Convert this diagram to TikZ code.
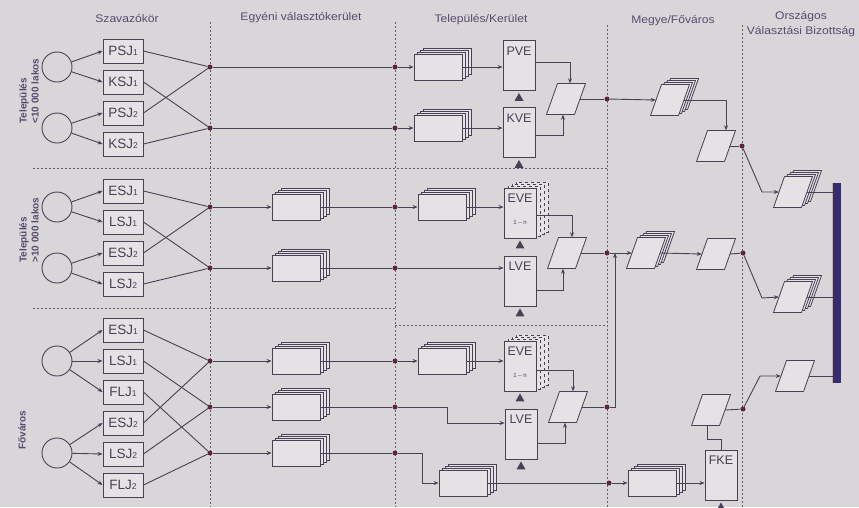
\documentclass[tikz,border=0pt]{standalone}
\usepackage{fontspec}
\setmainfont{Liberation Sans}
\newfontfamily\headfont[FakeStretch=1.1]{Liberation Sans}
\usetikzlibrary{arrows.meta,calc}
\definecolor{bgc}{RGB}{216,214,216}
\definecolor{fillc}{RGB}{228,226,229}
\definecolor{linec}{RGB}{72,64,84}
\definecolor{dotc}{RGB}{92,36,62}
\definecolor{textc}{RGB}{90,74,112}
\definecolor{barc}{RGB}{52,44,118}
\definecolor{baredge}{RGB}{205,185,105}
\newcommand\ix[1]{{\fontsize{8.5}{8}\selectfont #1}}
\newcommand\pagestack[3]{%
  \foreach \k in {3,2,1}{\node[page] at ({#2+3*\k},{#3-2*\k}) {};}%
  \node[page] (#1) at (#2,#3) {};}
\newcommand\paraat[2]{%
  \filldraw[parashape] ({#1-19.5},{#2+15.5}) -- ({#1-8.5},{#2-15.5}) -- ({#1+19.5},{#2-15.5}) -- ({#1+8.5},{#2+15.5}) -- cycle;}
\newcommand\mkpara[3]{\paraat{#2}{#3}\node[parabox] (#1) at (#2,#3) {};}
\newcommand\parastack[3]{%
  \foreach \k in {3,2,1}{\paraat{#2+3*\k}{#3-2*\k}}%
  \mkpara{#1}{#2}{#3}}
\newcommand\votetri[1]{\fill[linec] ($(#1.south)+(0,2)$) -- ++(-4.5,8) -- ++(9,0) -- cycle;}
\newcommand\dashback[2]{%
  \foreach \k in {3,2,1}{\node[vebox,dashed,line width=0.6pt] at ({#1+4*\k},{#2-2*\k}) {};}}
\tikzset{
  conn/.style={draw=linec,line width=0.9pt},
  arr/.style={conn,-{Stealth[length=5pt,width=4pt]}},
  divider/.style={draw=linec!85,line width=0.6pt,dash pattern=on 2pt off 2pt},
  heading/.style={text=textc,font=\headfont\fontsize{11}{15}\selectfont,align=center},
  sidelab/.style={text=textc,font=\bfseries\fontsize{10}{12}\selectfont,align=left},
  voter/.style={circle,draw=linec,line width=0.9pt,minimum size=30pt,inner sep=0pt},
  sbox/.style={draw=linec,line width=0.9pt,fill=fillc,minimum width=40pt,minimum height=24pt,inner sep=0pt,text=linec,font=\fontsize{13.5}{14}\selectfont},
  junc/.style={circle,fill=dotc,inner sep=0pt,minimum size=5pt},
  page/.style={draw=linec,line width=0.8pt,fill=fillc,minimum width=48pt,minimum height=26pt,inner sep=0pt},
  vebox/.style={draw=linec,line width=0.9pt,fill=fillc,minimum width=32pt,minimum height=50pt,inner sep=0pt},
  velab/.style={text=linec,font=\fontsize{12.5}{13}\selectfont,anchor=north,yshift=-3pt},
  smalllab/.style={text=linec,font=\fontsize{6}{6}\selectfont,yshift=-9pt},
  parashape/.style={draw=linec,line width=0.8pt,fill=fillc,line join=round},
  parabox/.style={minimum width=28pt,minimum height=31pt,inner sep=0pt},
}
\begin{document}
\begin{tikzpicture}[x=1pt,y=-1pt]
\fill[bgc] (0,0) rectangle (859,507);
\useasboundingbox (0,0) rectangle (859,507);
% headings
\node[heading] (h1) at (127,18) {Szavazókör};
\node[heading] (h2) at (301,18) {Egyéni választókerület};
\node[heading] (h3) at (481,20) {Település/Kerület};
\node[heading] (h4) at (673,21) {Megye/Főváros};
\node[heading] (h5) at (801,24) {Országos\\Választási Bizottság};
% dividers
\draw[divider] (210,22) -- (210,507);
\draw[divider] (395,22) -- (395,507);
\draw[divider] (607,25) -- (607,507);
\draw[divider] (742,25) -- (742,507);
\draw[divider] (33,168) -- (607,168);
\draw[divider] (33,308) -- (395,308);
\draw[divider] (395,325) -- (607,325);
% side labels
\node[sidelab,rotate=90,anchor=west] (l1) at (29,127) {Település\\<10 000 lakos};
\node[sidelab,rotate=90,anchor=west] (l2) at (29,266) {Település\\>10 000 lakos};
\node[sidelab,rotate=90] (l3) at (22,430) {Főváros};
% bar
\node[fill=barc,minimum width=8pt,minimum height=200pt,inner sep=0pt] (bar) at (837,283) {};
\draw[baredge,line width=1.2pt] (bar.north west) -- (bar.south west);

% ===== section 1
\node[voter] (c1) at (57,67) {};
\node[voter] (c2) at (57,128) {};
\node[sbox] (a1) at (123,51) {PSJ\ix1};
\node[sbox] (a2) at (123,82) {KSJ\ix1};
\node[sbox] (a3) at (123,113) {PSJ\ix2};
\node[sbox] (a4) at (123,144) {KSJ\ix2};
\node[junc] (d1) at (210,67) {};
\node[junc] (d2) at (210,128) {};
\node[junc] (e1) at (395,67) {};
\node[junc] (e2) at (395,128) {};
\pagestack{s1}{438}{67}
\pagestack{s2}{438}{128}
\node[vebox,label={[velab]north:PVE}] (pve) at (519,65.5) {};
\node[vebox,label={[velab]north:KVE}] (kve) at (519,132.5) {};
\votetri{pve}\votetri{kve}
\mkpara{p1}{566}{99}
\node[junc] (f1) at (607,99) {};
\parastack{sp1}{670}{100}
\mkpara{p2}{716}{146}
\node[junc] (g1) at (742,146) {};
\coordinate (k1) at (762,192);
\parastack{sa1}{793}{192}
\coordinate (t1) at (726,100);

\foreach \c/\b in {c1/a1,c1/a2,c2/a3,c2/a4} \draw[arr] (\c) -- (\b.west);
\foreach \b/\d in {a1/d1,a2/d2,a3/d1,a4/d2} \draw[conn] (\b.east) -- (\d);
\draw[conn] (d1) -- (e1);
\draw[conn] (d2) -- (e2);
\draw[arr] (e1) -- (s1.west);
\draw[arr] (e2) -- (s2.west);
\draw[arr] (s1.east) -- (s1.east -| pve.west);
\draw[arr] (s2.east) -- (s2.east -| kve.west);
\draw[arr] ($(pve.east)+(0,-3)$) -| ($(p1.north)+(4,0)$);
\draw[arr] ($(kve.east)+(0,2.5)$) -| ($(p1.south)+(-3,0)$);
\draw[conn] (p1.east) -- (f1);
\draw[arr] (f1) -- (sp1.west);
\draw[arr] (sp1.east) -- (t1) -- (t1 |- p2.north);
\draw[conn] (p2.east) -- (g1);
\draw[arr] (g1) -- (k1) -- (sa1.west);
\draw[conn] (sa1.east) -- (sa1.east -| bar.west);

% ===== section 2
\node[voter] (c3) at (57,207) {};
\node[voter] (c4) at (57,268) {};
\node[sbox] (b1) at (123,191) {ESJ\ix1};
\node[sbox] (b2) at (123,222) {LSJ\ix1};
\node[sbox] (b3) at (123,253) {ESJ\ix2};
\node[sbox] (b4) at (123,284) {LSJ\ix2};
\node[junc] (d3) at (210,207) {};
\node[junc] (d4) at (210,268) {};
\pagestack{q1}{296}{207}
\pagestack{q2}{296}{268}
\node[junc] (e3) at (395,207) {};
\node[junc] (e4) at (395,268) {};
\pagestack{s3}{442}{207}
\dashback{520}{213}
\node[vebox,label={[velab]north:EVE},label={[smalllab]center:1 – n}] (eve1) at (520,213) {};
\node[vebox,label={[velab]north:LVE}] (lve1) at (520,281) {};
\votetri{eve1}\votetri{lve1}
\mkpara{p3}{567}{253}
\node[junc] (f2) at (607,253) {};
\parastack{sp2}{646}{253}
\mkpara{p4}{716}{254}
\node[junc] (g2) at (743,253) {};
\coordinate (k2) at (762,298);
\parastack{sa2}{793}{297}

\foreach \c/\b in {c3/b1,c3/b2,c4/b3,c4/b4} \draw[arr] (\c) -- (\b.west);
\foreach \b/\d in {b1/d3,b2/d4,b3/d3,b4/d4} \draw[conn] (\b.east) -- (\d);
\draw[arr] (d3) -- (q1.west);
\draw[arr] (d4) -- (q2.west);
\draw[conn] (q1.east) -- (e3);
\draw[conn] (q2.east) -- (e4);
\draw[arr] (e3) -- (s3.west);
\draw[arr] (s3.east) -- (s3.east -| eve1.west);
\draw[arr] (e4) -- (e4 -| lve1.west);
\draw[arr] ($(eve1.east)+(0,2)$) -| ($(p3.north)+(5,0)$);
\draw[arr] ($(lve1.east)+(0,9)$) -| ($(p3.south)+(-4,0)$);
\draw[conn] (p3.east) -- (f2);
\draw[arr] (f2) -- (sp2.west);
\draw[arr] (sp2.east) -- (p4.west);
\draw[conn] (p4.east) -- (g2);
\draw[arr] (g2) -- (k2) -- (sa2.west);
\draw[conn] (sa2.east) -- (sa2.east -| bar.west);

% ===== section 3
\node[voter] (c5) at (57,361) {};
\node[voter] (c6) at (57,453) {};
\node[sbox] (r1) at (123,330) {ESJ\ix1};
\node[sbox] (r2) at (123,361) {LSJ\ix1};
\node[sbox] (r3) at (123,392) {FLJ\ix1};
\node[sbox] (r4) at (123,423) {ESJ\ix2};
\node[sbox] (r5) at (123,454) {LSJ\ix2};
\node[sbox] (r6) at (123,485) {FLJ\ix2};
\node[junc] (d5) at (210,361) {};
\node[junc] (d6) at (210,407) {};
\node[junc] (d7) at (210,453) {};
\pagestack{q3}{296}{361}
\pagestack{q4}{296}{407}
\pagestack{q5}{296}{453}
\node[junc] (e5) at (395,361) {};
\node[junc] (e6) at (395,407) {};
\node[junc] (e7) at (395,453) {};
\pagestack{s4}{442}{361}
\dashback{520}{366}
\node[vebox,label={[velab]north:EVE},label={[smalllab]center:1 – n}] (eve2) at (520,366) {};
\node[vebox,label={[velab]north:LVE}] (lve2) at (521,434) {};
\votetri{eve2}\votetri{lve2}
\mkpara{p5}{568}{407}
\node[junc] (f3) at (607,407) {};
\coordinate (u1) at (615,407);
\coordinate (v1) at (447,407);
\coordinate (v2) at (447,423);
\coordinate (w1) at (422,453);
\coordinate (w2) at (422,483);
\pagestack{sb}{463}{483}
\node[junc] (f4) at (609,483) {};
\pagestack{sfk}{652}{483}
\node[vebox,label={[velab]north:FKE}] (fke) at (721,475) {};
\votetri{fke}
\mkpara{p6}{711}{410}
\node[junc] (g3) at (743,409) {};
\coordinate (k3) at (760,376);
\mkpara{p7}{795}{376}

\foreach \c/\b in {c5/r1,c5/r2,c5/r3,c6/r4,c6/r5,c6/r6} \draw[arr] (\c) -- (\b.west);
\foreach \b/\d in {r1/d5,r2/d6,r3/d7,r4/d5,r5/d6,r6/d7} \draw[conn] (\b.east) -- (\d);
\draw[arr] (d5) -- (q3.west);
\draw[arr] (d6) -- (q4.west);
\draw[arr] (d7) -- (q5.west);
\draw[conn] (q3.east) -- (e5);
\draw[conn] (q4.east) -- (e6);
\draw[conn] (q5.east) -- (e7);
\draw[arr] (e5) -- (s4.west);
\draw[arr] (s4.east) -- (s4.east -| eve2.west);
\draw[arr] (e6) -- (v1) -- (v2) -- (v2 -| lve2.west);
\draw[arr] (e7) -- (w1) -- (w2) -- (sb.west);
\draw[arr] ($(eve2.east)+(0,4)$) -| ($(p5.north)+(5,0)$);
\draw[arr] ($(lve2.east)+(0,9)$) -| ($(p5.south)+(-3,0)$);
\draw[conn] (p5.east) -- (f3);
\draw[arr] (f3) -- (u1) -- (u1 |- f2);
\draw[conn] (sb.east) -- (f4);
\draw[arr] (f4) -- (sfk.west);
\draw[arr] (sfk.east) -- (sfk.east -| fke.west);
\draw[conn] (fke.north) -- ++(0,-10) -| ($(p6.south)+(-4,0)$);
\draw[conn] (p6.east) -- (g3);
\draw[arr] (g3) -- (k3) -- (p7.west);
\draw[conn] (p7.east) -- (p7.east -| bar.west);
\end{tikzpicture}
\end{document}
